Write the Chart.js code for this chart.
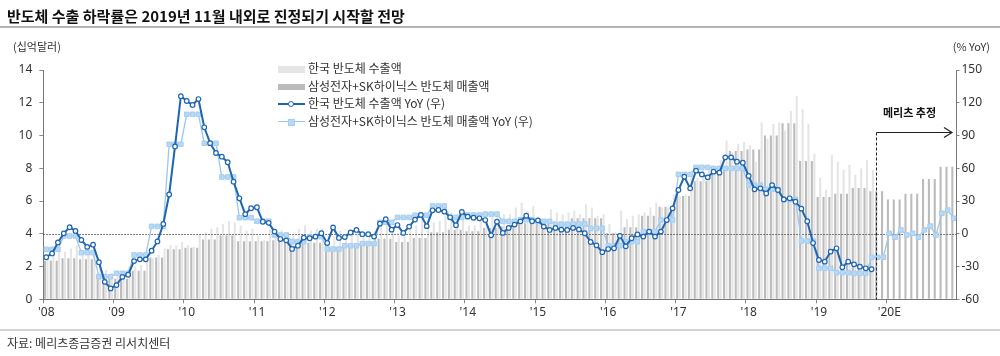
<!DOCTYPE html>
<html><head><meta charset="utf-8">
<script src="https://cdn.jsdelivr.net/npm/chart.js@4.4.1/dist/chart.umd.min.js"></script>
<style>
html,body{margin:0;padding:0;background:#fff;}
#wrap{position:relative;width:1000px;height:356px;overflow:hidden;font-family:"Noto Sans CJK KR","Noto Sans",sans-serif;}
#c{position:absolute;left:0;top:0;}
.t{position:absolute;white-space:nowrap;color:#333;line-height:1;}
.lg{position:absolute;left:278px;height:14px;white-space:nowrap;font-size:12px;color:#333;line-height:14px;}
.sym{position:absolute;left:0;top:0;width:27px;height:14px;}
.lt{position:absolute;left:30px;top:-1px;}
</style></head><body>
<div id="wrap">
<canvas id="c" width="1000" height="356"></canvas>
<div class="t" style="left:7px;top:8px;font-size:15px;font-weight:bold;color:#111;">반도체 수출 하락률은 2019년 11월 내외로 진정되기 시작할 전망</div>
<div style="position:absolute;left:0;top:26px;width:1000px;height:2px;background:#b4b4b4"></div>
<div class="t" style="left:13px;top:41px;font-size:11px;">(십억달러)</div>
<div class="t" style="right:10px;top:41px;font-size:11px;">(% YoY)</div>
<div class="t" style="left:883px;top:107px;font-size:11px;font-weight:bold;color:#111;">메리츠 추정</div>
<div id="legend"></div>
<div style="position:absolute;left:0;top:329px;width:1000px;height:2px;background:#d4d4d4"></div>
<div class="t" style="left:7px;top:337px;font-size:12px;">자료: 메리츠종금증권 리서치센터</div>
</div>
<script>
// x tick labels (one per year, Jan 2008 .. Jan 2020)
const yearLabels = ["'08","'09","'10","'11","'12","'13","'14","'15","'16","'17","'18","'19","'20E"];

// 한국 반도체 수출액 (십억달러), monthly Jan-2008 .. Dec-2020
const krExport = [
 2.6,2.7,2.9,2.9,3.1,3.3,3.0,2.8,2.9,2.2,1.8,1.6,
 1.4,1.7,2.0,2.0,2.1,2.3,2.5,2.7,3.1,3.3,3.3,3.5,
 3.3,3.2,4.0,4.1,4.3,4.4,4.6,4.8,4.7,4.5,4.2,4.3,
 3.9,3.6,4.3,4.0,4.2,4.1,4.0,4.3,4.5,4.2,4.3,4.3,
 3.6,3.9,4.2,4.0,4.2,4.1,3.9,4.1,4.0,4.5,4.8,4.4,
 3.9,3.9,4.4,4.5,4.9,4.4,4.7,4.8,5.1,5.3,5.2,5.4,
 4.5,4.5,5.1,5.0,5.1,5.0,5.2,5.2,5.6,5.9,5.4,5.7,
 5.0,4.7,5.5,5.3,5.2,5.3,5.4,5.2,5.8,5.6,5.1,5.2,
 4.6,4.1,5.4,4.9,5.1,5.2,5.3,5.6,5.9,5.6,5.6,6.4,
 6.3,6.4,7.6,7.4,7.9,7.9,8.1,8.5,9.7,9.0,9.5,9.6,
 9.4,8.4,10.8,9.8,10.7,10.8,10.3,11.5,12.4,11.6,10.7,8.9,
 7.4,6.7,8.8,8.4,7.9,8.2,7.6,8.0,8.5,7.9,null,null,
 null,null,null,null,null,null,null,null,null,null,null,null
];

// 삼성전자+SK하이닉스 반도체 매출액 (quarterly, shown for each month of the quarter)
const ssRevenue = [
 2.35,2.35,2.35,2.5,2.5,2.5,2.45,2.45,2.45,1.55,1.55,1.55,
 1.25,1.25,1.25,1.75,1.75,1.75,2.55,2.55,2.55,3.05,3.05,3.05,
 3.15,3.15,3.15,3.65,3.65,3.65,3.9,3.9,3.9,3.55,3.55,3.55,
 3.55,3.55,3.55,3.6,3.6,3.6,3.55,3.55,3.55,3.45,3.45,3.45,
 3.2,3.2,3.2,3.3,3.3,3.3,3.35,3.35,3.35,3.7,3.7,3.7,
 3.5,3.5,3.5,3.75,3.75,3.75,4.1,4.1,4.1,4.25,4.25,4.25,
 4.15,4.15,4.15,4.35,4.35,4.35,4.45,4.45,4.45,4.65,4.65,4.65,
 4.6,4.6,4.6,4.75,4.75,4.75,4.95,4.95,4.95,4.95,4.95,4.95,
 4.05,4.05,4.05,4.4,4.4,4.4,5.1,5.1,5.1,5.65,5.65,5.65,
 6.3,6.3,6.3,7.2,7.2,7.2,8.05,8.05,8.05,9.05,9.05,9.05,
 9.15,9.15,9.15,10.0,10.0,10.0,10.75,10.75,10.75,8.45,8.45,8.45,
 6.25,6.25,6.25,6.45,6.45,6.45,6.8,6.8,6.8,6.6,6.6,6.6,
 6.1,6.1,6.1,6.45,6.45,6.45,7.35,7.35,7.35,8.1,8.1,8.1
];

// 한국 반도체 수출액 YoY (%, 우)
const krYoY = [
 -21.5,-18,-8,0.4,6,2.6,-5.7,-12,-10,-26,-44,-50,
 -47,-39.5,-37.5,-25,-23.4,-23.4,-15.5,-7,9,36,80,126,
 121.6,118,123.4,97.5,83,74,70.6,65.5,47.7,32.5,18,23.4,
 24.3,11,10,2,-4.8,-6,-13.9,-10.9,-3.5,-4.1,-2.6,0.5,
 -8.5,5.8,-3.8,-3,1.2,3.5,-0.4,-0.4,-2.6,9.3,13.4,3.8,
 8,0.8,6.6,13,17.3,7,21.5,21.8,20.3,15.1,7.8,20,
 15.7,14.7,14.2,12.6,-1.4,11.1,0.8,5.4,8.4,11.4,16.5,11.5,
 12.3,6.6,3.5,5.3,3.8,3.5,5.4,4,0.5,-7.5,-10.6,-16.8,
 -14,-13.3,-1.9,-11.5,-4.1,-0.6,-2.6,2,-2.6,2,12.6,23.3,
 40.1,52.3,41.6,57.8,54.4,51.7,56.9,56,70,70,66,65.1,
 52.9,40.7,41.6,37,44.6,40.1,31.5,32.5,29.4,23,11.5,-8.5,
 -24,-25.5,-16.3,-13.3,-30.7,-25.5,-28,-30.1,-31.6,-32.5,null,null,
 null,null,null,null,null,null,null,null,null,null,null,null
];

// 삼성전자+SK하이닉스 반도체 매출액 YoY (%, 우)
const ssYoY = [
 -14.2,-14.2,-14.2,-2,-2,-2,-17.3,-17.3,-17.3,-39.3,-39.3,-39.3,
 -36.2,-36.2,-36.2,-19.4,-19.4,-19.4,6.8,6.8,6.8,82,82,82,
 109.4,109.4,109.4,82.9,82.9,82.9,52,52,52,14.7,14.7,14.7,
 11.5,11.5,11.5,-1.1,-1.1,-1.1,-7.2,-7.2,-7.2,-2.6,-2.6,-2.6,
 -14,-14,-14,-11,-11,-11,-9,-9,-9,10.5,10.5,10.5,
 15,15,15,17,17,17,25.5,25.5,25.5,15,15,15,
 17.2,17.2,17.2,18,18,18,11.4,11.4,11.4,12.9,12.9,12.9,
 11.4,11.4,11.4,8.7,8.7,8.7,9,9,9,5,5,5,
 -11,-11,-11,-7.2,-7.2,-7.2,2,2,2,12.6,12.6,12.6,
 54.4,54.4,54.4,60.8,60.8,60.8,59.9,59.9,59.9,59.9,59.9,59.9,
 44.6,44.6,44.6,40.7,40.7,40.7,31.5,31.5,31.5,-6.6,-6.6,-6.6,
 -31.6,-31.6,-31.6,-35.6,-35.6,-35.6,-36.2,-36.2,-36.2,-21.5,-21.5,-21.5,
 0.4,-3.2,3.5,-1.1,0.4,-3.2,3.5,7.1,-1.1,18.7,21.8,14.2
];

const seriesNames = ["한국 반도체 수출액","삼성전자+SK하이닉스 반도체 매출액","한국 반도체 수출액 YoY (우)","삼성전자+SK하이닉스 반도체 매출액 YoY (우)"];

const forecastStart = 142.2;   // month index where the estimate begins (Nov-2019)
const arrowLevel = 93;         // right-axis level of the estimate arrow

const toXY = arr => arr.map((v,i)=>({x:i+0.5,y:v}));

const C = {
  lightBar:'#e5e5e5', darkBar:'#bbbbbb',
  dark:'#1f65b0', light:'#9cc7ee', lightFill:'#b9d8f4'
};

const overlay = {
  id:'overlay',
  afterDatasetDraw(chart,args){
    if(args.index!==1) return;
    const {ctx,chartArea:a,scales} = chart;
    const y0 = Math.round(scales.y2.getPixelForValue(0))+0.5;
    ctx.save();
    ctx.strokeStyle='#555'; ctx.lineWidth=1; ctx.setLineDash([1.5,1.5]);
    ctx.beginPath(); ctx.moveTo(a.left,y0); ctx.lineTo(a.right,y0); ctx.stroke();
    ctx.restore();
  },
  afterDraw(chart){
    const {ctx,chartArea:a,scales} = chart;
    const xf = Math.round(scales.x.getPixelForValue(forecastStart))+0.5;
    const ya = Math.round(scales.y2.getPixelForValue(arrowLevel))+0.5;
    const xe = a.right-4.5;
    ctx.save();
    ctx.strokeStyle='#222'; ctx.lineWidth=1;
    ctx.setLineDash([3,2]);
    ctx.beginPath(); ctx.moveTo(xf,ya); ctx.lineTo(xf,a.bottom); ctx.stroke();
    ctx.setLineDash([]);
    ctx.beginPath(); ctx.moveTo(xf,ya); ctx.lineTo(xe,ya); ctx.stroke();
    ctx.lineWidth=1.2;
    ctx.beginPath(); ctx.moveTo(xe-8,ya-5); ctx.lineTo(xe,ya); ctx.lineTo(xe-8,ya+5); ctx.stroke();
    ctx.restore();
  }
};

const tickFont = {family:'"Noto Sans", sans-serif', size:12};

new Chart(document.getElementById('c'), {
  type:'bar',
  data:{
    datasets:[
      {type:'bar', label:seriesNames[0], data:toXY(krExport), yAxisID:'y', backgroundColor:C.lightBar, order:3,
       categoryPercentage:0.86, barPercentage:0.82},
      {type:'bar', label:seriesNames[1], data:toXY(ssRevenue), yAxisID:'y', backgroundColor:C.darkBar, order:2,
       categoryPercentage:0.86, barPercentage:0.82},
      {type:'line', label:seriesNames[2], data:toXY(krYoY), yAxisID:'y2', borderColor:C.dark, borderWidth:2,
       pointRadius:2.3, pointBorderWidth:1.2, pointBackgroundColor:'#fff', pointBorderColor:C.dark, order:0, spanGaps:false, tension:0},
      {type:'line', label:seriesNames[3], data:toXY(ssYoY), yAxisID:'y2', borderColor:C.light, borderWidth:1.3,
       pointStyle:'rect', pointRadius:3.2, pointBorderWidth:1, pointBackgroundColor:C.lightFill, pointBorderColor:'#a4cdf0', order:1, tension:0}
    ]
  },
  options:{
    responsive:false, animation:false, devicePixelRatio:1,
    layout:{padding:{top:70,left:0,right:0,bottom:0}},
    plugins:{legend:{display:false}, tooltip:{enabled:false}},
    scales:{
      x:{type:'linear', min:0, max:156, offset:false,
         afterBuildTicks:s=>{ s.ticks = yearLabels.map((_,i)=>({value:i*12})); },
         afterFit:s=>{ s.height = 56.7; },
         ticks:{callback:v=>yearLabels[Math.round(v/12)] ?? '', autoSkip:false, maxRotation:0, font:tickFont, color:'#333', padding:2, labelOffset:3},
         grid:{display:true, drawOnChartArea:false, drawTicks:true, tickLength:4, color:'#888', offset:false},
         border:{display:true, color:'#777'}},
      y:{position:'left', min:0, max:14,
         afterBuildTicks:s=>{ s.ticks = [0,2,4,6,8,10,12,14].map(v=>({value:v})); },
         afterFit:s=>{ s.width = 43.3; },
         ticks:{font:tickFont, color:'#333', padding:7},
         grid:{drawOnChartArea:false, drawTicks:true, tickLength:4, color:'#888'},
         border:{display:true, color:'#777'}},
      y2:{position:'right', min:-60, max:150,
         afterBuildTicks:s=>{ s.ticks = [-60,-30,0,30,60,90,120,150].map(v=>({value:v})); },
         afterFit:s=>{ s.width = 43.5; },
         ticks:{font:tickFont, color:'#333', padding:2},
         grid:{drawOnChartArea:false, drawTicks:true, tickLength:3, color:'#888'},
         border:{display:true, color:'#777'}}
    }
  },
  plugins:[overlay]
});

// legend
(function(){
  const lg = document.getElementById('legend');
  const rows = [62, 79.5, 97, 114.5];
  const syms = [
    `<div style="position:absolute;left:0;top:3.5px;width:27px;height:7px;background:${C.lightBar}"></div>`,
    `<div style="position:absolute;left:0;top:4px;width:27px;height:6px;background:${C.darkBar}"></div>`,
    `<div style="position:absolute;left:0;top:6px;width:27px;height:2px;background:${C.dark}"></div><div style="position:absolute;left:10px;top:3.5px;width:4px;height:4px;border:1.2px solid ${C.dark};border-radius:50%;background:#fff"></div>`,
    `<div style="position:absolute;left:0;top:6.3px;width:27px;height:1.3px;background:${C.light}"></div><div style="position:absolute;left:10px;top:4px;width:5px;height:5px;border:1px solid #a4cdf0;background:${C.lightFill}"></div>`
  ];
  seriesNames.forEach((n,i)=>{
    const d = document.createElement('div');
    d.className='lg'; d.style.top = rows[i]+'px';
    d.innerHTML = `<div class="sym">${syms[i]}</div><div class="lt">${n}</div>`;
    lg.appendChild(d);
  });
})();
</script>
</body></html>
